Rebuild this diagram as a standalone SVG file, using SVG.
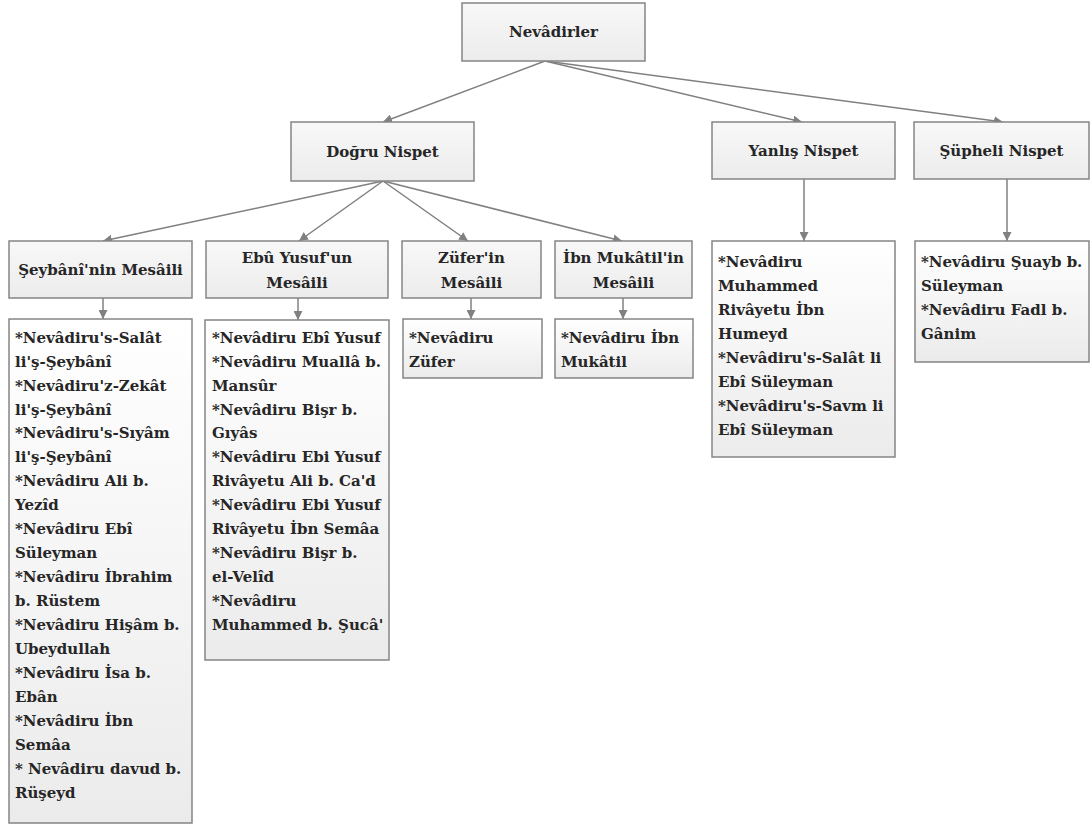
<svg xmlns="http://www.w3.org/2000/svg" width="1092" height="825" viewBox="0 0 1092 825">
<defs>
<linearGradient id="gh" x1="0" y1="0" x2="0" y2="1"><stop offset="0" stop-color="#f8f8f8"/><stop offset="1" stop-color="#ececec"/></linearGradient>
<linearGradient id="gt" x1="0" y1="0" x2="0" y2="1"><stop offset="0" stop-color="#ffffff"/><stop offset="1" stop-color="#ebebeb"/></linearGradient>
<marker id="ah" viewBox="0 0 10 10" refX="10" refY="5" markerWidth="9" markerHeight="9" markerUnits="userSpaceOnUse" orient="auto"><path d="M0,0 L10,5 L0,10 z" fill="#808080"/></marker>
</defs>
<style>
.hb{fill:url(#gh);stroke:#858585;stroke-width:1.5}
.tb{fill:url(#gt);stroke:#858585;stroke-width:1.5}
.ht{font-family:"DejaVu Serif","Liberation Serif",serif;font-weight:bold;font-size:15px;fill:#262626;text-anchor:middle}
.tt{font-family:"DejaVu Serif","Liberation Serif",serif;font-weight:bold;font-size:15px;fill:#262626}
.c{stroke:#808080;stroke-width:1.5;fill:none;marker-end:url(#ah)}
</style>
<rect width="1092" height="825" fill="#ffffff"/>
<g id="connectors">
<line class="c" x1="545" y1="61" x2="383" y2="122"/>
<line class="c" x1="545" y1="61" x2="802" y2="122"/>
<line class="c" x1="545" y1="61" x2="1003" y2="122"/>
<line class="c" x1="383" y1="181" x2="103" y2="241"/>
<line class="c" x1="383" y1="181" x2="299" y2="241"/>
<line class="c" x1="383" y1="181" x2="468" y2="241"/>
<line class="c" x1="383" y1="181" x2="622" y2="241"/>
<line class="c" x1="103" y1="298" x2="103" y2="319"/>
<line class="c" x1="298" y1="298" x2="298" y2="320"/>
<line class="c" x1="471" y1="298" x2="471" y2="319"/>
<line class="c" x1="623" y1="298" x2="623" y2="319"/>
<line class="c" x1="804" y1="179" x2="804" y2="241"/>
<line class="c" x1="1007" y1="179" x2="1007" y2="241"/>
</g>
<g id="n-nevadirler"><rect class="hb" x="462" y="3" width="183" height="58"/><text class="ht" x="553.5" y="37">Nevâdirler</text></g>
<g id="n-dogru"><rect class="hb" x="291" y="122" width="183" height="59"/><text class="ht" x="382.5" y="157">Doğru Nispet</text></g>
<g id="n-yanlis"><rect class="hb" x="712" y="122" width="183" height="57"/><text class="ht" x="803.5" y="156">Yanlış Nispet</text></g>
<g id="n-supheli"><rect class="hb" x="914" y="122" width="175" height="57"/><text class="ht" x="1001.5" y="156">Şüpheli Nispet</text></g>
<g id="n-seybani"><rect class="hb" x="9" y="241" width="183" height="57"/><text class="ht" x="100.5" y="275">Şeybânî'nin Mesâili</text></g>
<g id="n-ebuyusuf"><rect class="hb" x="206" y="241" width="182" height="57"/><text class="ht" x="297" y="263">Ebû Yusuf'un</text><text class="ht" x="297" y="288">Mesâili</text></g>
<g id="n-zufer"><rect class="hb" x="402" y="241" width="139" height="57"/><text class="ht" x="471.5" y="263">Züfer'in</text><text class="ht" x="471.5" y="288">Mesâili</text></g>
<g id="n-ibnmukatil"><rect class="hb" x="555" y="241" width="137" height="57"/><text class="ht" x="623.5" y="263">İbn Mukâtil'in</text><text class="ht" x="623.5" y="288">Mesâili</text></g>
<g id="t-seybani"><rect class="tb" x="9" y="319" width="183" height="504"/>
<text class="tt" x="15" y="343">*Nevâdiru's-Salât</text>
<text class="tt" x="15" y="367">li'ş-Şeybânî</text>
<text class="tt" x="15" y="391">*Nevâdiru'z-Zekât</text>
<text class="tt" x="15" y="415">li'ş-Şeybânî</text>
<text class="tt" x="15" y="438">*Nevâdiru's-Sıyâm</text>
<text class="tt" x="15" y="462">li'ş-Şeybânî</text>
<text class="tt" x="15" y="486">*Nevâdiru Ali b.</text>
<text class="tt" x="15" y="510">Yezîd</text>
<text class="tt" x="15" y="534">*Nevâdiru Ebî</text>
<text class="tt" x="15" y="558">Süleyman</text>
<text class="tt" x="15" y="582">*Nevâdiru İbrahim</text>
<text class="tt" x="15" y="606">b. Rüstem</text>
<text class="tt" x="15" y="630">*Nevâdiru Hişâm b.</text>
<text class="tt" x="15" y="654">Ubeydullah</text>
<text class="tt" x="15" y="678">*Nevâdiru İsa b.</text>
<text class="tt" x="15" y="702">Ebân</text>
<text class="tt" x="15" y="726">*Nevâdiru İbn</text>
<text class="tt" x="15" y="750">Semâa</text>
<text class="tt" x="15" y="774">* Nevâdiru davud b.</text>
<text class="tt" x="15" y="798">Rüşeyd</text>
</g>
<g id="t-ebuyusuf"><rect class="tb" x="205" y="320" width="184" height="340"/>
<text class="tt" x="212" y="343">*Nevâdiru Ebî Yusuf</text>
<text class="tt" x="212" y="367">*Nevâdiru Muallâ b.</text>
<text class="tt" x="212" y="391">Mansûr</text>
<text class="tt" x="212" y="415">*Nevâdiru Bişr b.</text>
<text class="tt" x="212" y="438">Gıyâs</text>
<text class="tt" x="212" y="462">*Nevâdiru Ebi Yusuf</text>
<text class="tt" x="212" y="486">Rivâyetu Ali b. Ca'd</text>
<text class="tt" x="212" y="510">*Nevâdiru Ebi Yusuf</text>
<text class="tt" x="212" y="534">Rivâyetu İbn Semâa</text>
<text class="tt" x="212" y="558">*Nevâdiru Bişr b.</text>
<text class="tt" x="212" y="582">el-Velîd</text>
<text class="tt" x="212" y="606">*Nevâdiru</text>
<text class="tt" x="212" y="630">Muhammed b. Şucâ'</text>
</g>
<g id="t-zufer"><rect class="tb" x="403" y="319" width="139" height="59"/>
<text class="tt" x="409" y="343">*Nevâdiru</text>
<text class="tt" x="409" y="367">Züfer</text>
</g>
<g id="t-ibnmukatil"><rect class="tb" x="555" y="319" width="138" height="59"/>
<text class="tt" x="561" y="343">*Nevâdiru İbn</text>
<text class="tt" x="561" y="367">Mukâtil</text>
</g>
<g id="t-yanlis"><rect class="tb" x="712" y="241" width="183" height="216"/>
<text class="tt" x="718" y="267">*Nevâdiru</text>
<text class="tt" x="718" y="291">Muhammed</text>
<text class="tt" x="718" y="315">Rivâyetu İbn</text>
<text class="tt" x="718" y="339">Humeyd</text>
<text class="tt" x="718" y="363">*Nevâdiru's-Salât li</text>
<text class="tt" x="718" y="387">Ebî Süleyman</text>
<text class="tt" x="718" y="411">*Nevâdiru's-Savm li</text>
<text class="tt" x="718" y="435">Ebî Süleyman</text>
</g>
<g id="t-supheli"><rect class="tb" x="915" y="241" width="174" height="121"/>
<text class="tt" x="921" y="267">*Nevâdiru Şuayb b.</text>
<text class="tt" x="921" y="291">Süleyman</text>
<text class="tt" x="921" y="315">*Nevâdiru Fadl b.</text>
<text class="tt" x="921" y="339">Gânim</text>
</g>
</svg>
